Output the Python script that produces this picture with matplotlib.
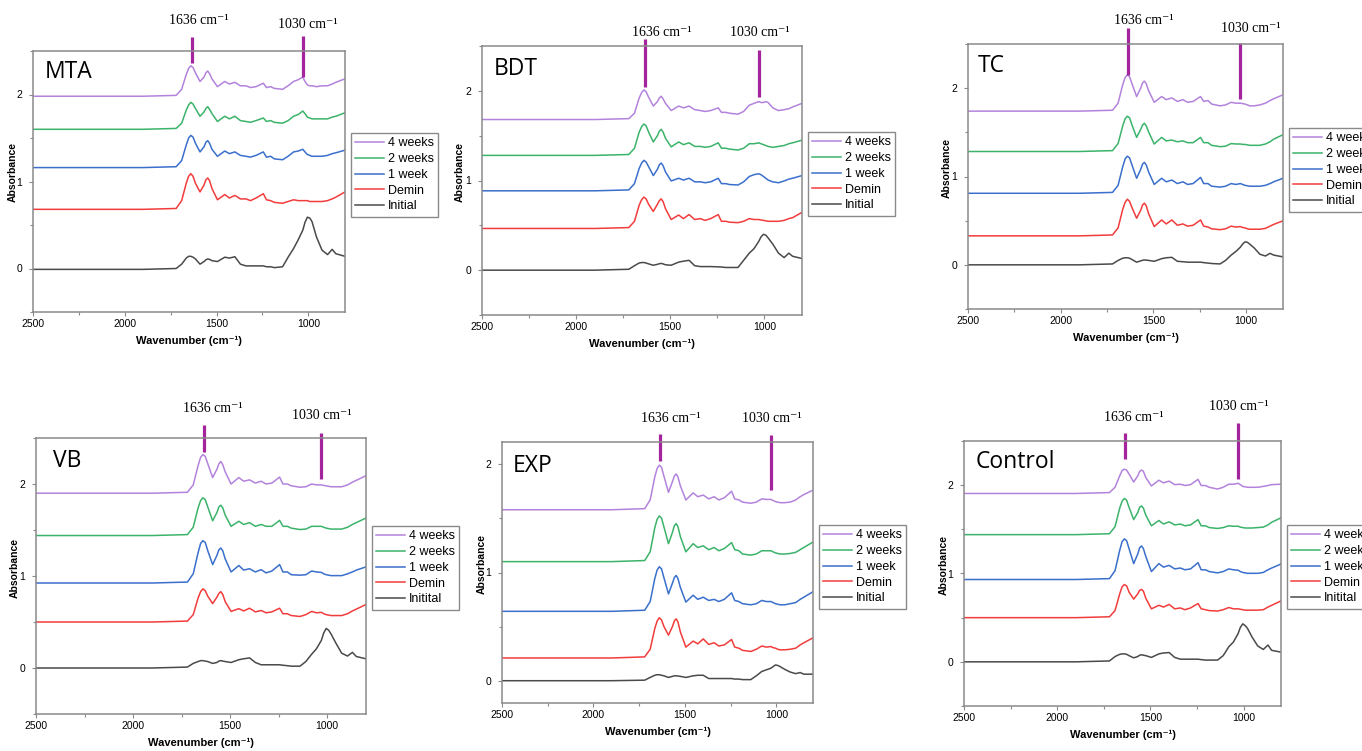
import matplotlib

matplotlib.use("Agg")
import matplotlib.pyplot as plt
from matplotlib.ticker import MultipleLocator
from matplotlib.transforms import blended_transform_factory

W, H = 1362, 751

# ---- data ------------------------------------------------------------------
PANELS = ["MTA", "BDT", "TC", "VB", "EXP", "Control"]
SERIES = ["4 weeks", "2 weeks", "1 week", "Demin", "Initial"]
LEGEND_LABELS = {
    "MTA": SERIES,
    "BDT": SERIES,
    "TC": SERIES,
    "VB": ["4 weeks", "2 weeks", "1 week", "Demin", "Initital"],
    "EXP": SERIES,
    "Control": ["4 weeks", "2 weeks", "1 week", "Demin", "Initital"],
}
PEAKS = [1636, 1030]

WAVENUMBER = [2500, 2200, 1900, 1720,
              1690, 1665, 1652, 1640, 1628, 1615, 1590, 1568, 1558, 1548, 1538, 1525,
              1495, 1455, 1430, 1400, 1370, 1340, 1315, 1285, 1245, 1228, 1205, 1185, 1140, 1110, 1080,
              1055, 1030, 1018, 1005, 992, 980, 955, 925, 895, 870, 850, 800]

# baseline level of each trace (4 weeks, 2 weeks, 1 week, Demin, Initial)
MTA_OFFSET = [1.98, 1.60, 1.16, 0.68, -0.01]
BDT_OFFSET = [1.68, 1.28, 0.885, 0.465, 0.0]
TC_OFFSET = [1.74, 1.283, 0.81, 0.328, 0.0]
VB_OFFSET = [1.90, 1.44, 0.924, 0.50, 0.0]
EXP_OFFSET = [1.577, 1.10, 0.643, 0.214, 0.005]
CONTROL_OFFSET = [1.906, 1.44, 0.932, 0.50, 0.0]

# absorbance above baseline at each WAVENUMBER
MTA_DELTA = [
    [0, 0, 0, 0.01,
     0.08, 0.25, 0.32, 0.35, 0.33, 0.27, 0.17, 0.22, 0.27, 0.29, 0.26, 0.20,
     0.11, 0.17, 0.14, 0.16, 0.12, 0.12, 0.10, 0.11, 0.15, 0.10, 0.11, 0.09, 0.08, 0.12, 0.17,
     0.19, 0.22, 0.17, 0.13, 0.12, 0.12, 0.11, 0.12, 0.12, 0.14, 0.16, 0.20],
    [0, 0, 0, 0.01,
     0.07, 0.22, 0.28, 0.31, 0.29, 0.24, 0.15, 0.20, 0.24, 0.26, 0.23, 0.18,
     0.09, 0.15, 0.12, 0.15, 0.10, 0.09, 0.08, 0.10, 0.13, 0.09, 0.10, 0.08, 0.07, 0.10, 0.15,
     0.17, 0.21, 0.18, 0.14, 0.13, 0.12, 0.12, 0.12, 0.12, 0.14, 0.15, 0.19],
    [0, 0, 0, 0.01,
     0.08, 0.26, 0.34, 0.37, 0.35, 0.28, 0.18, 0.24, 0.29, 0.31, 0.28, 0.21,
     0.13, 0.19, 0.16, 0.18, 0.14, 0.13, 0.12, 0.14, 0.18, 0.12, 0.13, 0.10, 0.09, 0.13, 0.18,
     0.19, 0.21, 0.18, 0.15, 0.14, 0.13, 0.13, 0.13, 0.14, 0.16, 0.17, 0.20],
    [0, 0, 0, 0.01,
     0.10, 0.30, 0.38, 0.41, 0.38, 0.30, 0.20, 0.28, 0.34, 0.36, 0.33, 0.24,
     0.11, 0.17, 0.13, 0.16, 0.12, 0.12, 0.10, 0.13, 0.18, 0.11, 0.10, 0.08, 0.07, 0.09, 0.11,
     0.10, 0.10, 0.10, 0.10, 0.09, 0.09, 0.09, 0.09, 0.10, 0.12, 0.14, 0.20],
    [0, 0, 0, 0.01,
     0.06, 0.13, 0.15, 0.15, 0.14, 0.12, 0.06, 0.09, 0.11, 0.12, 0.115, 0.10,
     0.09, 0.14, 0.13, 0.145, 0.06, 0.04, 0.04, 0.04, 0.04, 0.03, 0.03, 0.02, 0.03, 0.14, 0.24,
     0.34, 0.45, 0.54, 0.60, 0.59, 0.55, 0.37, 0.22, 0.17, 0.23, 0.18, 0.15],
]
BDT_DELTA = [
    [0, 0, 0, 0.01,
     0.07, 0.24, 0.30, 0.33, 0.31, 0.25, 0.15, 0.20, 0.24, 0.26, 0.23, 0.18,
     0.10, 0.15, 0.13, 0.15, 0.11, 0.10, 0.09, 0.10, 0.13, 0.08, 0.08, 0.07, 0.06, 0.09, 0.16,
     0.18, 0.20, 0.19, 0.19, 0.20, 0.19, 0.13, 0.10, 0.11, 0.12, 0.14, 0.18],
    [0, 0, 0, 0.01,
     0.08, 0.26, 0.32, 0.35, 0.33, 0.26, 0.15, 0.22, 0.27, 0.29, 0.26, 0.19,
     0.095, 0.15, 0.12, 0.14, 0.10, 0.10, 0.09, 0.10, 0.14, 0.08, 0.08, 0.07, 0.06, 0.08, 0.13,
     0.13, 0.14, 0.13, 0.12, 0.11, 0.10, 0.09, 0.10, 0.11, 0.13, 0.14, 0.17],
    [0, 0, 0, 0.01,
     0.08, 0.25, 0.31, 0.34, 0.32, 0.27, 0.17, 0.24, 0.29, 0.31, 0.28, 0.21,
     0.11, 0.14, 0.12, 0.14, 0.10, 0.10, 0.09, 0.10, 0.14, 0.08, 0.08, 0.07, 0.065, 0.10, 0.16,
     0.18, 0.19, 0.18, 0.16, 0.14, 0.12, 0.10, 0.09, 0.11, 0.13, 0.14, 0.17],
    [0, 0, 0, 0.01,
     0.08, 0.26, 0.32, 0.35, 0.33, 0.27, 0.19, 0.27, 0.31, 0.33, 0.30, 0.22,
     0.10, 0.15, 0.11, 0.155, 0.10, 0.11, 0.09, 0.11, 0.155, 0.08, 0.08, 0.07, 0.065, 0.08, 0.11,
     0.10, 0.10, 0.095, 0.09, 0.085, 0.08, 0.08, 0.08, 0.09, 0.11, 0.12, 0.18],
    [0, 0, 0, 0.01,
     0.05, 0.08, 0.085, 0.085, 0.08, 0.07, 0.055, 0.065, 0.072, 0.075, 0.07, 0.06,
     0.055, 0.09, 0.10, 0.11, 0.05, 0.04, 0.04, 0.04, 0.037, 0.035, 0.03, 0.03, 0.03, 0.11, 0.19,
     0.24, 0.32, 0.37, 0.40, 0.39, 0.36, 0.29, 0.19, 0.14, 0.19, 0.155, 0.13],
]
TC_DELTA = [
    [0, 0, 0, 0.01,
     0.09, 0.30, 0.38, 0.41, 0.39, 0.31, 0.165, 0.26, 0.32, 0.34, 0.31, 0.23,
     0.10, 0.165, 0.13, 0.15, 0.11, 0.13, 0.10, 0.11, 0.165, 0.11, 0.12, 0.08, 0.06, 0.07, 0.10,
     0.09, 0.09, 0.085, 0.08, 0.07, 0.06, 0.06, 0.07, 0.09, 0.12, 0.14, 0.185],
    [0, 0, 0, 0.01,
     0.09, 0.29, 0.37, 0.40, 0.38, 0.30, 0.16, 0.25, 0.30, 0.32, 0.29, 0.22,
     0.085, 0.16, 0.12, 0.13, 0.11, 0.12, 0.10, 0.10, 0.16, 0.10, 0.10, 0.07, 0.055, 0.06, 0.09,
     0.085, 0.085, 0.08, 0.08, 0.075, 0.07, 0.07, 0.07, 0.085, 0.11, 0.14, 0.19],
    [0, 0, 0, 0.01,
     0.09, 0.30, 0.39, 0.42, 0.40, 0.32, 0.17, 0.27, 0.33, 0.35, 0.32, 0.24,
     0.10, 0.17, 0.13, 0.15, 0.11, 0.13, 0.10, 0.11, 0.18, 0.11, 0.11, 0.08, 0.07, 0.08, 0.11,
     0.10, 0.11, 0.10, 0.09, 0.085, 0.08, 0.08, 0.08, 0.09, 0.11, 0.13, 0.17],
    [0, 0, 0, 0.01,
     0.09, 0.30, 0.38, 0.415, 0.39, 0.32, 0.20, 0.29, 0.35, 0.37, 0.34, 0.25,
     0.105, 0.18, 0.135, 0.18, 0.12, 0.135, 0.11, 0.12, 0.18, 0.11, 0.10, 0.08, 0.07, 0.08, 0.11,
     0.10, 0.105, 0.095, 0.09, 0.08, 0.075, 0.075, 0.075, 0.085, 0.11, 0.13, 0.17],
    [0, 0, 0, 0.01,
     0.05, 0.075, 0.08, 0.08, 0.075, 0.06, 0.03, 0.045, 0.052, 0.055, 0.053, 0.05,
     0.04, 0.07, 0.08, 0.085, 0.04, 0.035, 0.03, 0.03, 0.03, 0.025, 0.02, 0.015, 0.01, 0.05, 0.11,
     0.15, 0.20, 0.235, 0.26, 0.255, 0.235, 0.19, 0.12, 0.10, 0.13, 0.11, 0.09],
]
VB_DELTA = [
    [0, 0, 0, 0.01,
     0.09, 0.30, 0.39, 0.42, 0.40, 0.32, 0.17, 0.26, 0.32, 0.345, 0.31, 0.23,
     0.10, 0.17, 0.13, 0.145, 0.11, 0.13, 0.10, 0.11, 0.175, 0.10, 0.10, 0.08, 0.065, 0.07, 0.10,
     0.09, 0.09, 0.085, 0.08, 0.075, 0.07, 0.07, 0.07, 0.09, 0.12, 0.14, 0.19],
    [0, 0, 0, 0.01,
     0.09, 0.30, 0.38, 0.41, 0.39, 0.31, 0.16, 0.25, 0.31, 0.33, 0.30, 0.22,
     0.10, 0.155, 0.12, 0.14, 0.10, 0.12, 0.10, 0.10, 0.165, 0.10, 0.10, 0.08, 0.065, 0.07, 0.10,
     0.10, 0.10, 0.09, 0.08, 0.075, 0.07, 0.07, 0.07, 0.09, 0.12, 0.14, 0.19],
    [0, 0, 0, 0.01,
     0.10, 0.33, 0.43, 0.46, 0.44, 0.35, 0.20, 0.30, 0.36, 0.38, 0.35, 0.26,
     0.12, 0.19, 0.14, 0.155, 0.12, 0.145, 0.11, 0.13, 0.20, 0.12, 0.12, 0.09, 0.085, 0.09, 0.13,
     0.12, 0.115, 0.10, 0.09, 0.085, 0.08, 0.08, 0.08, 0.10, 0.12, 0.14, 0.175],
    [0, 0, 0, 0.01,
     0.08, 0.26, 0.33, 0.36, 0.34, 0.28, 0.20, 0.27, 0.31, 0.33, 0.30, 0.22,
     0.115, 0.145, 0.12, 0.15, 0.11, 0.125, 0.10, 0.11, 0.15, 0.09, 0.09, 0.07, 0.06, 0.08, 0.115,
     0.10, 0.105, 0.09, 0.08, 0.075, 0.07, 0.07, 0.07, 0.09, 0.12, 0.14, 0.19],
    [0, 0, 0, 0.01,
     0.05, 0.07, 0.08, 0.08, 0.075, 0.07, 0.05, 0.06, 0.075, 0.08, 0.075, 0.07,
     0.06, 0.09, 0.10, 0.11, 0.06, 0.035, 0.035, 0.035, 0.035, 0.03, 0.025, 0.02, 0.02, 0.07, 0.15,
     0.21, 0.30, 0.38, 0.43, 0.41, 0.37, 0.27, 0.16, 0.13, 0.17, 0.125, 0.10],
]
EXP_DELTA = [
    [0, 0, 0, 0.01,
     0.09, 0.30, 0.38, 0.41, 0.39, 0.31, 0.16, 0.26, 0.31, 0.33, 0.30, 0.22,
     0.09, 0.155, 0.12, 0.135, 0.10, 0.12, 0.09, 0.11, 0.17, 0.10, 0.09, 0.07, 0.06, 0.07, 0.10,
     0.095, 0.095, 0.085, 0.075, 0.07, 0.065, 0.065, 0.07, 0.09, 0.12, 0.14, 0.18],
    [0, 0, 0, 0.01,
     0.09, 0.31, 0.39, 0.42, 0.40, 0.32, 0.165, 0.27, 0.33, 0.35, 0.32, 0.23,
     0.09, 0.165, 0.13, 0.145, 0.11, 0.13, 0.10, 0.12, 0.175, 0.11, 0.10, 0.07, 0.06, 0.07, 0.10,
     0.10, 0.10, 0.09, 0.08, 0.075, 0.07, 0.07, 0.075, 0.085, 0.11, 0.13, 0.18],
    [0, 0, 0, 0.01,
     0.09, 0.30, 0.38, 0.41, 0.39, 0.31, 0.16, 0.26, 0.31, 0.33, 0.30, 0.22,
     0.085, 0.148, 0.11, 0.13, 0.10, 0.11, 0.09, 0.11, 0.17, 0.10, 0.09, 0.07, 0.06, 0.07, 0.10,
     0.09, 0.09, 0.08, 0.07, 0.065, 0.06, 0.06, 0.07, 0.08, 0.11, 0.13, 0.18],
    [0, 0, 0, 0.01,
     0.08, 0.27, 0.34, 0.37, 0.35, 0.29, 0.21, 0.29, 0.34, 0.36, 0.33, 0.24,
     0.10, 0.155, 0.13, 0.175, 0.125, 0.14, 0.11, 0.12, 0.17, 0.10, 0.09, 0.07, 0.06, 0.08, 0.11,
     0.10, 0.105, 0.095, 0.09, 0.08, 0.075, 0.075, 0.08, 0.09, 0.12, 0.14, 0.185],
    [0, 0, 0, 0.005,
     0.03, 0.05, 0.055, 0.055, 0.05, 0.045, 0.03, 0.04, 0.045, 0.045, 0.043, 0.04,
     0.03, 0.045, 0.05, 0.05, 0.02, 0.02, 0.02, 0.02, 0.02, 0.015, 0.015, 0.01, 0.01, 0.045, 0.085,
     0.10, 0.115, 0.13, 0.145, 0.14, 0.13, 0.105, 0.08, 0.065, 0.075, 0.06, 0.06],
]
CONTROL_DELTA = [
    [0, 0, 0, 0.01,
     0.07, 0.20, 0.26, 0.275, 0.265, 0.22, 0.13, 0.20, 0.25, 0.265, 0.25, 0.18,
     0.085, 0.15, 0.12, 0.14, 0.10, 0.105, 0.09, 0.10, 0.16, 0.09, 0.09, 0.07, 0.05, 0.07, 0.105,
     0.105, 0.115, 0.10, 0.08, 0.075, 0.07, 0.07, 0.07, 0.08, 0.09, 0.10, 0.105],
    [0, 0, 0, 0.01,
     0.09, 0.30, 0.38, 0.41, 0.39, 0.31, 0.17, 0.25, 0.31, 0.325, 0.30, 0.22,
     0.10, 0.16, 0.12, 0.145, 0.11, 0.12, 0.10, 0.11, 0.17, 0.10, 0.10, 0.08, 0.07, 0.08, 0.10,
     0.095, 0.095, 0.085, 0.08, 0.075, 0.075, 0.075, 0.08, 0.085, 0.11, 0.14, 0.19],
    [0, 0, 0, 0.01,
     0.10, 0.33, 0.43, 0.46, 0.44, 0.35, 0.18, 0.29, 0.36, 0.38, 0.35, 0.26,
     0.09, 0.18, 0.14, 0.16, 0.12, 0.13, 0.11, 0.12, 0.19, 0.11, 0.11, 0.09, 0.075, 0.09, 0.12,
     0.11, 0.105, 0.09, 0.08, 0.075, 0.07, 0.07, 0.07, 0.08, 0.11, 0.13, 0.175],
    [0, 0, 0, 0.01,
     0.08, 0.27, 0.35, 0.375, 0.36, 0.29, 0.21, 0.27, 0.31, 0.32, 0.30, 0.22,
     0.10, 0.14, 0.12, 0.15, 0.10, 0.11, 0.09, 0.11, 0.16, 0.10, 0.09, 0.08, 0.075, 0.09, 0.115,
     0.10, 0.10, 0.095, 0.09, 0.085, 0.085, 0.085, 0.085, 0.09, 0.12, 0.14, 0.19],
    [0, 0, 0, 0.01,
     0.06, 0.085, 0.09, 0.09, 0.085, 0.07, 0.045, 0.06, 0.075, 0.08, 0.075, 0.07,
     0.05, 0.09, 0.10, 0.105, 0.05, 0.03, 0.03, 0.03, 0.03, 0.025, 0.02, 0.02, 0.02, 0.07, 0.17,
     0.225, 0.32, 0.39, 0.43, 0.41, 0.38, 0.28, 0.18, 0.14, 0.19, 0.13, 0.11],
]

OFFSETS = [MTA_OFFSET, BDT_OFFSET, TC_OFFSET, VB_OFFSET, EXP_OFFSET, CONTROL_OFFSET]
DELTAS = [MTA_DELTA, BDT_DELTA, TC_DELTA, VB_DELTA, EXP_DELTA, CONTROL_DELTA]
YLIMS = [(-0.5, 2.5), (-0.5, 2.5), (-0.5, 2.5), (-0.5, 2.5), (-0.2, 2.2), (-0.5, 2.5)]

# ---- layout (figure pixels) --------------------------------------------------
COLORS = ["#b383dc", "#3bb36a", "#3a6fcc", "#f23c3c", "#4a4a4a"]
MARK_COLOR = "#a3249c"
SPINE = "#8a8a8a"

# left, top, right, bottom of each plot area
AXES_BOX = [(33, 51, 345, 312), (482, 46, 802, 315), (968, 44, 1283, 309),
            (36, 438, 366, 714), (502, 442, 813, 703), (964, 441, 1281, 706)]
LEGEND_AT = [(351, 133), (808, 132), (1289, 128), (372, 526), (819, 525), (1287, 525)]
TITLE_AT = [(45, 78), (494, 75), (978, 72), (53, 467), (513, 472), (976, 468)]
YLABEL_AT = [(13, 172), (460, 172), (947, 168), (15, 568), (482, 564), (944, 565)]
# (top, bottom) of the 1636 and 1030 marker bars
MARK_Y = [((37, 63), (36, 77)), ((39, 87), (50, 97)), ((28, 75), (43, 99)),
          ((425, 452), (433, 479)), ((434, 461), (435, 490)), ((433, 459), (423, 479))]
MARK_TEXT_AT = [((199, 21), (308, 24)), ((662, 32), (760, 32)), ((1144, 20), (1251, 28)),
                ((213, 409), (322, 416)), ((671, 418), (772, 418)), ((1134, 417), (1239, 407))]

SANS = ["Liberation Sans", "DejaVu Sans"]
SERIF = ["Liberation Serif", "DejaVu Serif"]


def draw_panel(fig, i):
    left, top, right, bottom = AXES_BOX[i]
    ax = fig.add_axes([left / W, 1 - bottom / H, (right - left) / W, (bottom - top) / H])
    for k, label in enumerate(LEGEND_LABELS[PANELS[i]]):
        y = [OFFSETS[i][k] + d for d in DELTAS[i][k]]
        ax.plot(WAVENUMBER, y, color=COLORS[k], lw=1.1, label=label, solid_joinstyle="round")

    ax.set_xlim(2500, 800)
    ax.set_ylim(*YLIMS[i])
    ax.xaxis.set_major_locator(MultipleLocator(500))
    ax.xaxis.set_minor_locator(MultipleLocator(250))
    ax.yaxis.set_major_locator(MultipleLocator(1))
    ax.yaxis.set_minor_locator(MultipleLocator(0.5))
    ax.tick_params(which="both", direction="out", color=SPINE, width=0.8, labelsize=7.5)
    ax.tick_params(which="major", length=3)
    ax.tick_params(which="minor", length=2)
    ax.tick_params(axis="y", pad=5)
    ax.tick_params(axis="x", pad=2)
    for label in ax.get_xticklabels() + ax.get_yticklabels():
        label.set_family(SANS)
    for spine in ax.spines.values():
        spine.set_color(SPINE)
        spine.set_linewidth(1.1)

    ax.set_xlabel("Wavenumber (cm⁻¹)", fontsize=8, fontweight="bold", family=SANS, va="center")
    ax.xaxis.set_label_coords(0.5, -29 / (bottom - top))
    ax.set_ylabel("Absorbance", fontsize=7.5, fontweight="bold", family=SANS, va="center")
    lx, ly = YLABEL_AT[i]
    ax.yaxis.set_label_coords((lx - left) / (right - left), (bottom - ly) / (bottom - top))

    tx, ty = TITLE_AT[i]
    fig.text(tx / W, 1 - ty / H, PANELS[i], fontsize=16.5, family=["Open Sans", "DejaVu Sans"],
             ha="left", va="baseline")

    trans = blended_transform_factory(ax.transData, fig.transFigure)
    for j, wn in enumerate(PEAKS):
        y0, y1 = MARK_Y[i][j]
        ax.plot([wn, wn], [1 - y0 / H, 1 - y1 / H], transform=trans, color=MARK_COLOR,
                lw=2.3, clip_on=False, solid_capstyle="butt")
        mx, my = MARK_TEXT_AT[i][j]
        fig.text(mx / W, 1 - my / H, f"{wn} cm⁻¹", fontsize=10, family=SERIF,
                 ha="center", va="center")

    gx, gy = LEGEND_AT[i]
    leg = ax.legend(loc="upper left", bbox_to_anchor=(gx / W, 1 - gy / H),
                    bbox_transform=fig.transFigure, borderaxespad=0, fancybox=False,
                    framealpha=1, edgecolor=SPINE, prop={"family": SANS, "size": 9},
                    handlelength=2.3, handletextpad=0.3, labelspacing=0.3, borderpad=0.35)
    leg.get_frame().set_linewidth(1.0)


def main() -> None:
    fig = plt.figure(figsize=(W / 100, H / 100), dpi=100)
    for i in range(len(PANELS)):
        draw_panel(fig, i)
    fig.savefig("out.png", dpi=100)
    plt.close(fig)


if __name__ == "__main__":
    main()
